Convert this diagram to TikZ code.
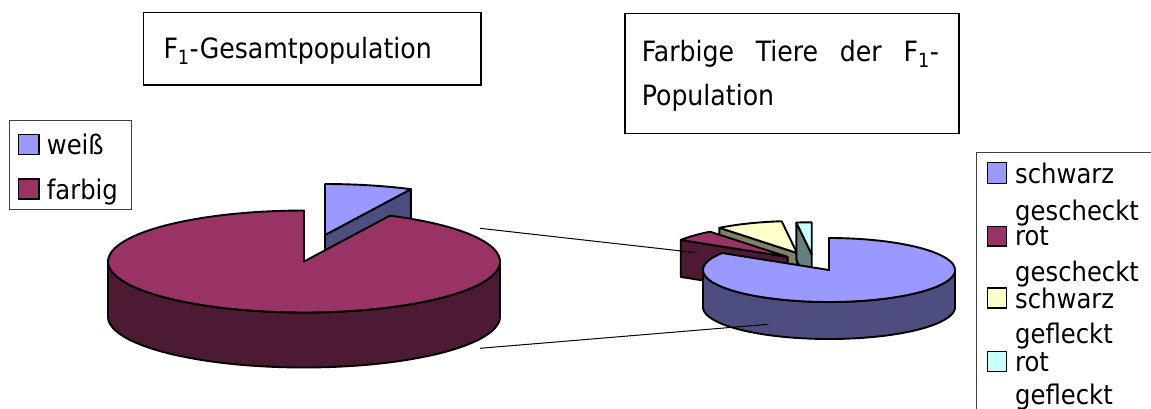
\documentclass[tikz,border=0pt]{standalone}
\usepackage{fontspec}
\setmainfont{DejaVu Sans Condensed}
\definecolor{cblue}{HTML}{9999FF}
\definecolor{cbluedk}{HTML}{4D4D80}
\definecolor{cred}{HTML}{993366}
\definecolor{creddk}{HTML}{4D1A33}
\definecolor{cyel}{HTML}{FFFFCC}
\definecolor{cyeldk}{HTML}{808066}
\definecolor{ccyan}{HTML}{CCFFFF}
\definecolor{ccyandk}{HTML}{668080}
\tikzset{
  pieline/.style={draw=black, line width=1.9pt, line join=round},
  boxline/.style={draw=black, line width=1.3pt},
  legbox/.style={draw=black!75, line width=0.9pt},
  legsq/.style={draw=black, line width=1.4pt},
  lbl/.style={inner sep=0pt, anchor=base west, font=\fontsize{27}{32}\selectfont},
  ttl/.style={inner sep=0pt, anchor=base west, font=\fontsize{28}{33}\selectfont},
  leader/.style={draw=black, line width=1pt}
}
% top face of a slice: cx cy rx ry a1 a2 fill
\newcommand{\pieTopFace}[7]{%
  \filldraw[pieline, fill=#7] ({#1},{#2}) -- plot[domain=#5:#6, samples=100] ({#1+#3*cos(\x)},{#2-#4*sin(\x)}) -- cycle;}
% outer rim: cx cy rx ry a1 a2 depth fill
\newcommand{\pieRimFace}[8]{%
  \filldraw[pieline, fill=#8] plot[domain=#5:#6, samples=100] ({#1+#3*cos(\x)},{#2-#4*sin(\x)}) -- plot[domain=#6:#5, samples=100] ({#1+#3*cos(\x)},{#2+#7-#4*sin(\x)}) -- cycle;}
% cut face: cx cy rx ry angle depth fill
\newcommand{\pieCutFace}[7]{%
  \filldraw[pieline, fill=#7] ({#1},{#2}) -- ({#1+#3*cos(#5)},{#2-#4*sin(#5)}) -- ({#1+#3*cos(#5)},{#2+#6-#4*sin(#5)}) -- ({#1},{#2+#6}) -- cycle;}
\begin{document}
\begin{tikzpicture}[x=1pt,y=-1pt]
\fill[white] (0,0) rectangle (1151,408);
\useasboundingbox (0,0) rectangle (1151,408);

% ---------- left pie ----------
% weiss (exploded)
\pieCutFace{325}{235}{196}{51}{64}{55}{cbluedk}
\pieTopFace{325}{235}{196}{51}{64}{90}{cblue}
% farbig
\pieRimFace{304}{261.5}{196}{51}{180}{360}{55}{creddk}
\pieTopFace{304}{261.5}{196}{51}{90}{424}{cred}

% ---------- right pie ----------
% schwarz gefleckt
\pieCutFace{797}{253}{126}{32}{128}{37}{cyeldk}
\pieTopFace{797}{253}{126}{32}{97}{128}{cyel}
% rot gefleckt
\pieCutFace{811.7}{254.3}{126}{32}{97}{37}{ccyandk}
\pieTopFace{811.7}{254.3}{126}{32}{90}{97}{ccyan}
% rot gescheckt
\pieCutFace{787.6}{256.9}{126}{32}{148}{37}{creddk}
\pieTopFace{787.6}{256.9}{126}{32}{128}{148}{cred}
% schwarz gescheckt
\pieRimFace{829}{270}{126}{32}{180}{360}{37}{cbluedk}
\pieTopFace{829}{270}{126}{32}{-212}{90}{cblue}

% ---------- leader lines ----------
\coordinate (LA1) at (480,228.3);
\coordinate (LB1) at (696.7,252.7);
\coordinate (LA2) at (480,348.3);
\coordinate (LB2) at (768.3,324.3);
\draw[leader] (LA1) -- (LB1);
\draw[leader] (LA2) -- (LB2);

% ---------- title boxes ----------
\draw[boxline] (143.3,12.3) rectangle (481,85);
\node[ttl] (title1) at (163.3,58.3) {F\textsubscript{1}-Gesamtpopulation};
\draw[boxline] (625,13.3) rectangle (959,133.3);
\node[ttl] (title2a) at (641.7,61.7) {\hbox to 297pt{Farbige\hfil Tiere\hfil der\hfil F\textsubscript{1}-}};
\node[ttl] (title2b) at (641.7,105) {Population};

% ---------- legend left ----------
\draw[legbox] (9.3,120.7) rectangle (131.7,209.3);
\filldraw[legsq, fill=cblue] (18.3,134.3) rectangle (39,154.3);
\node[lbl] (lw) at (46.7,154) {weiß};
\filldraw[legsq, fill=cred] (18.3,179) rectangle (39,199);
\node[lbl] (lf) at (46.7,199) {farbig};

% ---------- legend right ----------
\draw[legbox] (1152,152.7) -- (976.7,152.7) -- (976.7,410);
\filldraw[legsq, fill=cblue] (987.3,162.7) rectangle (1006.7,183.3);
\node[lbl] (r1a) at (1015,183.3) {schwarz};
\node[lbl] (r1b) at (1015,220) {gescheckt};
\filldraw[legsq, fill=cred] (987.3,226.7) rectangle (1006.7,246);
\node[lbl] (r2a) at (1015,245) {rot};
\node[lbl] (r2b) at (1015,281.7) {gescheckt};
\filldraw[legsq, fill=cyel] (987.3,288) rectangle (1006.7,308);
\node[lbl] (r3a) at (1015,308.3) {schwarz};
\node[lbl] (r3b) at (1015,343) {gefleckt};
\filldraw[legsq, fill=ccyan] (987.3,351.7) rectangle (1006.7,371.7);
\node[lbl] (r4a) at (1015,371.7) {rot};
\node[lbl] (r4b) at (1015,404) {gefleckt};
\end{tikzpicture}
\end{document}
